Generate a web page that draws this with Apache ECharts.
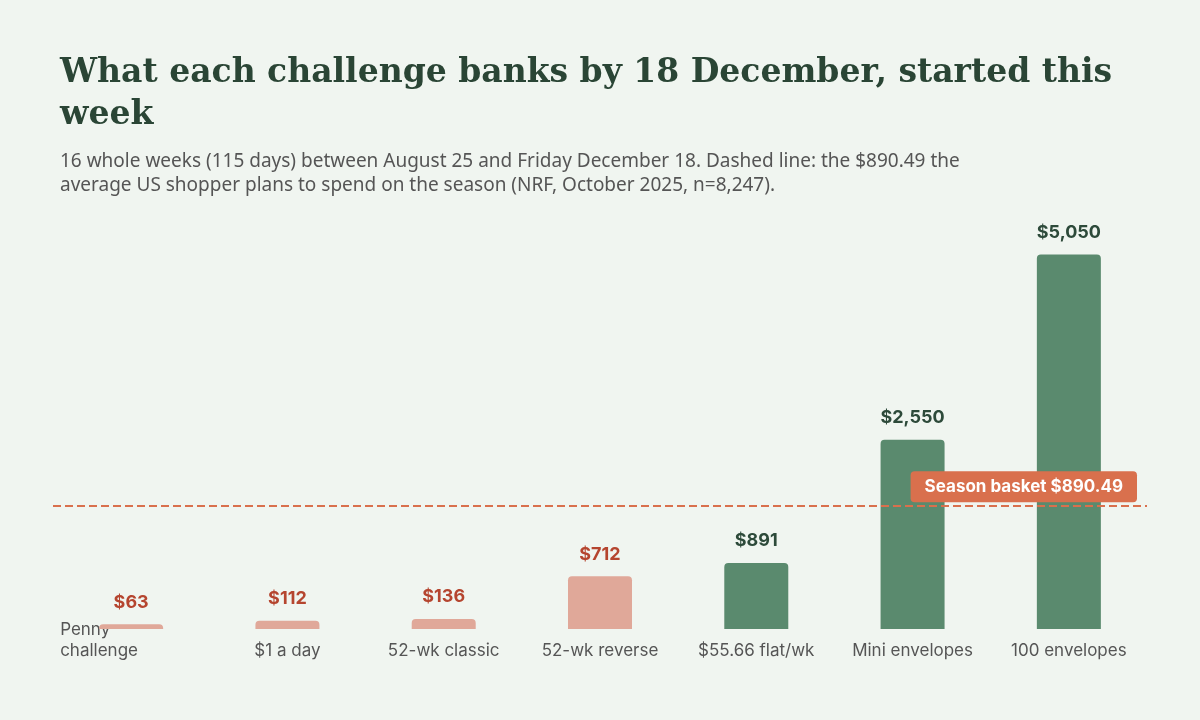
<!DOCTYPE html>
<html><head><meta charset="utf-8">
<script src="https://cdn.jsdelivr.net/npm/echarts@6/dist/echarts.min.js"></script>
<style>body{margin:0;background:#f0f5f0}#c{width:1200px;height:720px}</style>
</head><body><div id="c"></div>
<script>
const categories=['Penny challenge','$1 a day','52-wk classic','52-wk reverse','$55.66 flat/wk','Mini envelopes','100 envelopes'];
const values=[63,112,136,712,891,2550,5050];
const labels=['$63','$112','$136','$712','$891','$2,550','$5,050'];
const basketLabel='Season basket $890.49';
const basketLinePos=1655; // where the dashed line sits in the reference
const thr=890.49;
const ch=echarts.init(document.getElementById('c'));
ch.setOption({
backgroundColor:'#f0f5f0',
title:{text:'What each challenge banks by 18 December, started this\nweek',left:60,top:52,padding:0,
 textStyle:{fontFamily:'DejaVu Serif',fontWeight:'bold',fontSize:33,color:'#2a4535',lineHeight:42},
 subtext:'16 whole weeks (115 days) between August 25 and Friday December 18. Dashed line: the $890.49 the\naverage US shopper plans to spend on the season (NRF, October 2025, n=8,247).',
 subtextStyle:{fontFamily:'Noto Sans',fontSize:19,color:'#555',lineHeight:24},itemGap:14},
grid:{left:53,right:53,top:221,bottom:91},
xAxis:{type:'category',data:categories,axisLine:{show:false},axisTick:{show:false},
 axisLabel:{interval:0,fontFamily:'Inter',fontSize:17,color:'#555',margin:32,verticalAlign:'bottom',lineHeight:21,
  formatter:v=>v==='Penny challenge'?'{p|Penny}\n{p|challenge}':v,
  rich:{p:{width:142,align:'left',fontFamily:'Inter',fontSize:17,color:'#555',lineHeight:21}}}},
yAxis:{type:'value',min:0,max:5500,show:false,splitLine:{show:false}},
series:[{type:'bar',barWidth:64,
 data:values.map((v,i)=>({value:v,itemStyle:{color:v>=thr?'#5a8a6e':'#e0a899',borderRadius:[4,4,0,0]},
  label:{show:true,position:'top',distance:13,formatter:labels[i],fontFamily:'Inter',fontWeight:'bold',fontSize:18,color:v>=thr?'#2d4a3a':'#b5452f'}})),
 markLine:{symbol:'none',silent:true,lineStyle:{type:'dashed',color:'#d9704d',width:2},
  data:[{yAxis:basketLinePos,label:{formatter:basketLabel,position:'insideEndTop',distance:[10,4],backgroundColor:'#d9704d',color:'#fff',
   fontFamily:'Inter',fontWeight:'bold',fontSize:17,padding:[7,14],borderRadius:4}}]}}]
});
</script></body></html>
